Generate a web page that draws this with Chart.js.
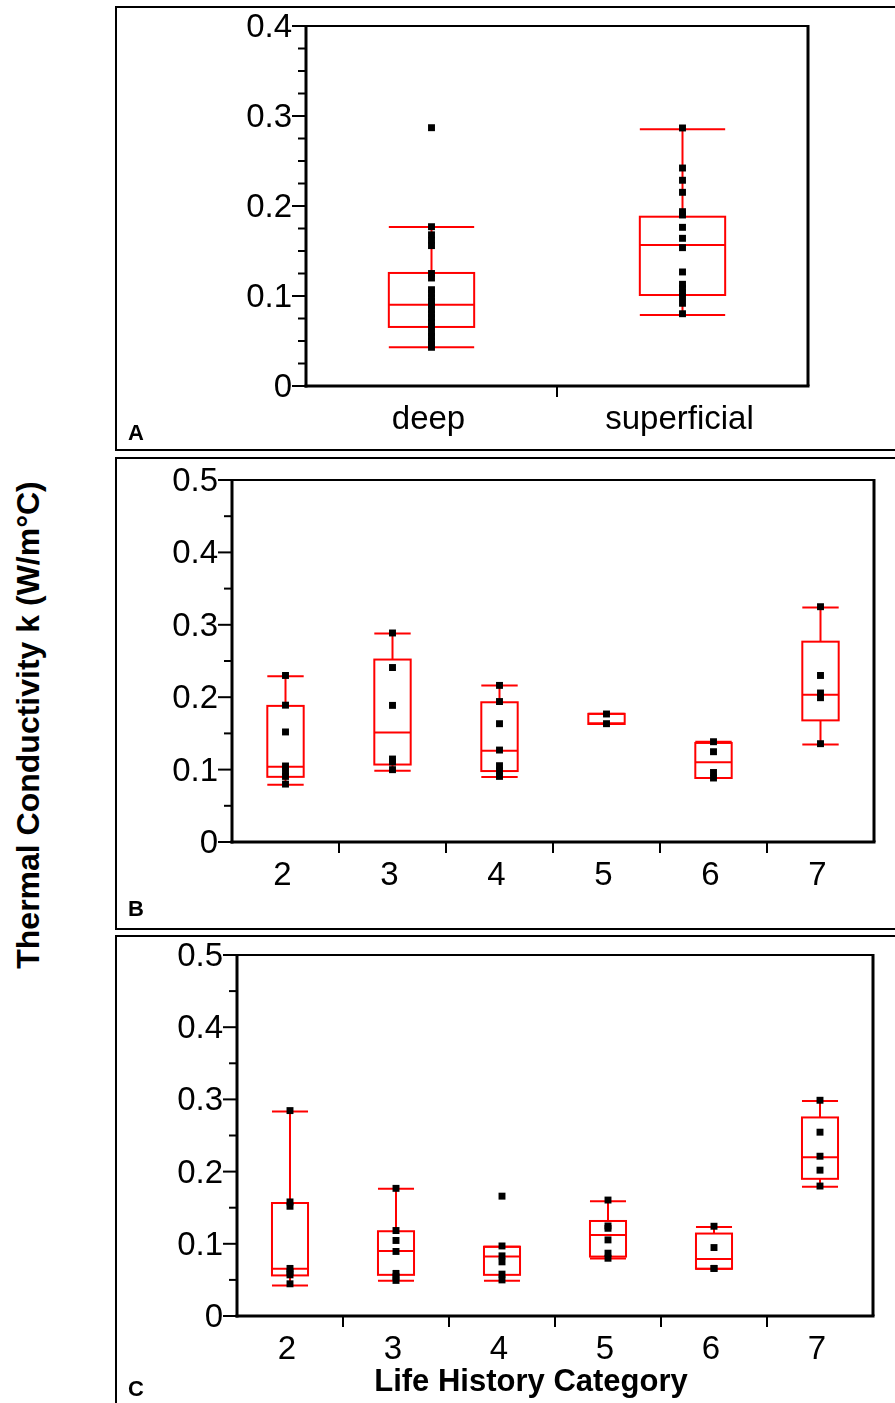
<!DOCTYPE html>
<html><head><meta charset="utf-8">
<script src="https://cdn.jsdelivr.net/npm/chart.js@4.4.1/dist/chart.umd.min.js"></script>
<style>
html,body{margin:0;padding:0;background:#fff;width:895px;height:1403px;overflow:hidden;position:relative;font-family:"Liberation Sans",Arial,sans-serif;}
.frame{position:absolute;left:115px;width:820px;border:2px solid #000;box-sizing:border-box;}
canvas{position:absolute;}
.lbl{position:absolute;font-weight:bold;color:#000;white-space:nowrap;}
</style></head><body>
<div class="frame" style="top:6px;height:445px"></div>
<div class="frame" style="top:457px;height:473px"></div>
<div class="frame" style="top:935px;height:500px"></div>
<canvas id="cA" width="779" height="458" style="left:116px;top:-8px"></canvas>
<canvas id="cB" width="779" height="460" style="left:116px;top:446px"></canvas>
<canvas id="cC" width="779" height="459" style="left:116px;top:921px"></canvas>
<div class="lbl" style="left:128px;top:422px;font-size:22px;line-height:22px">A</div>
<div class="lbl" style="left:128px;top:898px;font-size:22px;line-height:22px">B</div>
<div class="lbl" style="left:128px;top:1378px;font-size:22px;line-height:22px">C</div>
<div class="lbl" style="left:531px;top:1365px;font-size:31px;line-height:31px;transform:translateX(-50%)">Life History Category</div>
<div class="lbl" style="left:28px;top:725px;font-size:32px;line-height:32px;transform:translate(-50%,-50%) rotate(-90deg)">Thermal Conductivity k (W/m°C)</div>
<script>
// ---------- Panel A: deep vs superficial ----------
const catsA = ['deep', 'superficial'];
const minA = [0.043, 0.079];
const q1A  = [0.0656, 0.1011];
const medA = [0.0903, 0.1567];
const q3A  = [0.1256, 0.1881];
const maxA = [0.1767, 0.2852];
const ptsA_deep = [0.287, 0.177, 0.168, 0.162, 0.156, 0.125, 0.120, 0.107, 0.103, 0.098, 0.094, 0.090, 0.085, 0.080, 0.076, 0.071, 0.066, 0.059, 0.055, 0.050, 0.046, 0.043];
const ptsA_superficial = [0.2867, 0.2422, 0.2286, 0.2152, 0.1937, 0.19, 0.1763, 0.1641, 0.1537, 0.1267, 0.113, 0.1086, 0.1037, 0.0992, 0.0919, 0.0803];

// ---------- Life history categories ----------
const catsLH = ['2', '3', '4', '5', '6', '7'];

// Panel B
const minB = [0.079, 0.0985, 0.0898, 0.163, 0.0884, 0.1348];
const q1B  = [0.090, 0.107, 0.098, 0.163, 0.0884, 0.168];
const medB = [0.104, 0.1514, 0.126, 0.164, 0.110, 0.2035];
const q3B  = [0.188, 0.252, 0.193, 0.177, 0.1368, 0.2767];
const maxB = [0.229, 0.288, 0.216, 0.177, 0.1385, 0.324];
const ptsB = [
  [0.230, 0.189, 0.152, 0.105, 0.0975, 0.0906, 0.080],
  [0.2887, 0.241, 0.1887, 0.1146, 0.1105, 0.0999],
  [0.2163, 0.194, 0.1634, 0.127, 0.1054, 0.0985, 0.0906],
  [0.1768, 0.1634],
  [0.1385, 0.1247, 0.096, 0.0884],
  [0.325, 0.230, 0.2058, 0.1993, 0.1358]
];

// Panel C
const minC = [0.0424, 0.0488, 0.0488, 0.0796, 0.0653, 0.179];
const q1C  = [0.0562, 0.057, 0.057, 0.0823, 0.0653, 0.190];
const medC = [0.0653, 0.090, 0.0823, 0.1123, 0.079, 0.220];
const q3C  = [0.1565, 0.1174, 0.096, 0.1316, 0.1142, 0.275];
const maxC = [0.2831, 0.1763, 0.096, 0.159, 0.1233, 0.2979];
const ptsC = [
  [0.2845, 0.158, 0.152, 0.0659, 0.0608, 0.057, 0.0446],
  [0.1768, 0.1184, 0.1046, 0.0894, 0.059, 0.0543, 0.0493],
  [0.166, 0.097, 0.0833, 0.075, 0.058, 0.050],
  [0.1606, 0.1247, 0.1215, 0.1054, 0.087, 0.080],
  [0.1243, 0.0948, 0.0659, 0.0659],
  [0.2988, 0.2546, 0.2213, 0.202, 0.180]
];

const yTicksA = [0, 0.1, 0.2, 0.3, 0.4];
const yTicksLH = [0, 0.1, 0.2, 0.3, 0.4, 0.5];

function boxPlugin(st, minorStep, boxFrac) {
  function line(ctx, x1, y1, x2, y2) { ctx.beginPath(); ctx.moveTo(x1, y1); ctx.lineTo(x2, y2); ctx.stroke(); }
  return {
    id: 'boxes',
    beforeDatasetsDraw(chart) {
      const ctx = chart.ctx, xs = chart.scales.x, ys = chart.scales.y;
      const n = chart.data.labels.length;
      const hw = (xs.right - xs.left) / n * boxFrac / 2;
      ctx.save();
      ctx.strokeStyle = '#ff0000';
      ctx.lineWidth = 2;
      for (let i = 0; i < n; i++) {
        const x = xs.getPixelForValue(i);
        const yMin = ys.getPixelForValue(st.min[i]);
        const yQ1 = ys.getPixelForValue(st.q1[i]);
        const yMed = ys.getPixelForValue(st.med[i]);
        const yQ3 = ys.getPixelForValue(st.q3[i]);
        const yMax = ys.getPixelForValue(st.max[i]);
        line(ctx, x, yMax, x, yQ3);
        line(ctx, x, yQ1, x, yMin);
        line(ctx, x - hw, yMax, x + hw, yMax);
        line(ctx, x - hw, yMin, x + hw, yMin);
        ctx.strokeRect(x - hw, yQ3, 2 * hw, yQ1 - yQ3);
        line(ctx, x - hw, yMed, x + hw, yMed);
      }
      ctx.restore();
    },
    afterDraw(chart) {
      const ctx = chart.ctx, xs = chart.scales.x, ys = chart.scales.y, a = chart.chartArea;
      const n = chart.data.labels.length;
      ctx.save();
      ctx.strokeStyle = '#000';
      ctx.lineCap = 'butt';
      ctx.lineWidth = 2;
      line(ctx, a.left, a.top, a.right, a.top);
      ctx.lineWidth = 3;
      line(ctx, a.right, a.top - 1, a.right, a.bottom);
      line(ctx, a.left, a.top - 1, a.left, a.bottom + 1.5);
      line(ctx, a.left - 1.5, a.bottom, a.right + 1.5, a.bottom);
      ctx.lineWidth = 2;
      const steps = Math.round((ys.max - ys.min) / minorStep);
      for (let k = 0; k <= steps; k++) {
        const v = ys.min + k * minorStep;
        const y = ys.getPixelForValue(v);
        const major = Math.abs(v / 0.1 - Math.round(v / 0.1)) < 1e-6;
        line(ctx, a.left - (major ? 14 : 8), y, a.left, y);
      }
      for (let i = 1; i < n; i++) {
        const x = (xs.getPixelForValue(i - 1) + xs.getPixelForValue(i)) / 2;
        line(ctx, x, a.bottom, x, a.bottom + 11);
      }
      ctx.restore();
    }
  };
}

function makeChart(id, cats, ptsList, st, yMax, yTicks, minorStep, yWidth, pad) {
  const data = [];
  ptsList.forEach((arr, i) => arr.forEach(v => data.push({ x: cats[i], y: v })));
  return new Chart(document.getElementById(id), {
    type: 'scatter',
    data: {
      labels: cats,
      datasets: [{
        data: data,
        pointStyle: 'rect',
        pointRadius: 4.9,
        pointHoverRadius: 4.9,
        backgroundColor: '#000',
        borderColor: '#000',
        borderWidth: 0
      }]
    },
    options: {
      responsive: false,
      animation: false,
      devicePixelRatio: 1,
      layout: { padding: pad },
      plugins: { legend: { display: false }, tooltip: { enabled: false } },
      scales: {
        x: {
          type: 'category',
          labels: cats,
          offset: true,
          grid: { display: false, drawTicks: false, tickLength: 0 },
          border: { display: false },
          ticks: { color: '#000', font: { family: 'Liberation Sans', size: 33 }, padding: 14, labelOffset: -3, autoSkip: false, maxRotation: 0 },
          afterFit: s => { s.height = 50; }
        },
        y: {
          type: 'linear',
          min: 0,
          max: yMax,
          grid: { display: false, drawTicks: false, tickLength: 0 },
          border: { display: false },
          afterBuildTicks: s => { s.ticks = yTicks.map(v => ({ value: v })); },
          ticks: {
            color: '#000', font: { family: 'Liberation Sans', size: 33 }, padding: 14, labelOffset: 2, autoSkip: false,
            callback: v => (v === 0 ? '0' : String(Math.round(v * 10) / 10))
          },
          afterFit: s => { s.width = yWidth; }
        }
      }
    },
    plugins: [boxPlugin(st, minorStep, 0.34)]
  });
}

makeChart('cA', catsA, [ptsA_deep, ptsA_superficial],
  { min: minA, q1: q1A, med: medA, q3: q3A, max: maxA }, 0.4, yTicksA, 0.025, 190,
  { left: 0, right: 87, top: 34, bottom: 14 });
makeChart('cB', catsLH, ptsB,
  { min: minB, q1: q1B, med: medB, q3: q3B, max: maxB }, 0.5, yTicksLH, 0.05, 116,
  { left: 0, right: 21, top: 34, bottom: 14 });
makeChart('cC', catsLH, ptsC,
  { min: minC, q1: q1C, med: medC, q3: q3C, max: maxC }, 0.5, yTicksLH, 0.05, 121,
  { left: 0, right: 22, top: 34, bottom: 14 });
</script>
</body></html>
